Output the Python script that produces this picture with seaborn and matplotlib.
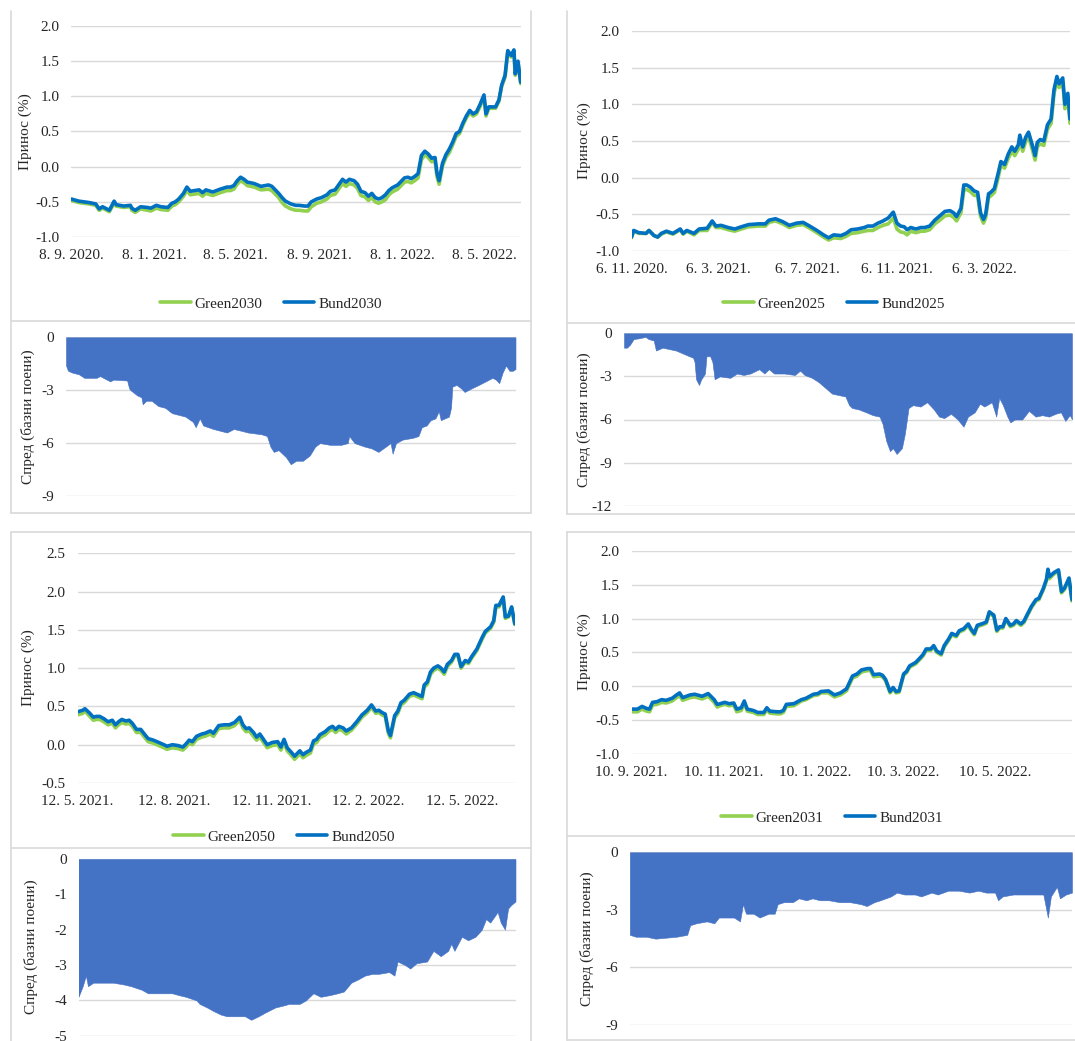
import matplotlib
matplotlib.use("Agg")
import matplotlib.pyplot as plt
from matplotlib.lines import Line2D
from matplotlib.ticker import FuncFormatter, FormatStrFormatter
import numpy as np
import pandas as pd
import seaborn as sns

# ---------------------------------------------------------------- data
# Yields in %, spreads (Green - Bund) in basis points.
# Observation times are given as days since the first observation.

start_2030 = "2020-09-08"
days_2030 = [0, 11, 26, 36, 41, 46, 56, 63, 66, 77, 87, 89, 94, 102, 112, 117, 125, 132, 142, 148,
             153, 158, 165, 170, 175, 188, 193, 198, 208, 219, 229, 234, 239, 244, 249, 254, 259, 269, 279, 290,
             295, 300, 305, 310, 315, 323, 330, 335, 343, 348, 353, 361, 368, 376, 381, 388, 399, 404, 409, 416,
             421, 426, 432, 437, 442, 447, 452, 457, 462, 467, 472, 480, 485, 490, 495, 500, 505, 510, 515, 520,
             525, 530, 535, 538, 541, 546, 551, 556, 561, 566, 571, 576, 581, 586, 591, 596, 601, 607, 610, 614,
             619, 624, 629, 633, 638, 642, 647, 651, 653, 657, 661]
bund_2030 = [-0.46, -0.49, -0.51, -0.53, -0.60, -0.57, -0.62, -0.49, -0.54, -0.56,
             -0.55, -0.59, -0.62, -0.57, -0.58, -0.59, -0.55, -0.57, -0.58, -0.52,
             -0.50, -0.46, -0.38, -0.29, -0.35, -0.33, -0.37, -0.33, -0.36, -0.32,
             -0.29, -0.29, -0.27, -0.20, -0.15, -0.18, -0.22, -0.24, -0.28, -0.26,
             -0.28, -0.33, -0.38, -0.44, -0.49, -0.53, -0.55, -0.55, -0.56, -0.56,
             -0.50, -0.46, -0.44, -0.40, -0.35, -0.33, -0.18, -0.22, -0.18, -0.20,
             -0.25, -0.35, -0.37, -0.42, -0.38, -0.44, -0.46, -0.44, -0.40, -0.34,
             -0.30, -0.26, -0.21, -0.16, -0.15, -0.17, -0.14, -0.10, 0.16, 0.22,
             0.18, 0.12, 0.13, -0.10, -0.20, 0.05, 0.17, 0.25, 0.35, 0.47,
             0.50, 0.62, 0.72, 0.80, 0.75, 0.78, 0.88, 1.02, 0.75, 0.85,
             0.85, 0.85, 0.95, 1.16, 1.30, 1.65, 1.58, 1.66, 1.32, 1.50, 1.20]
green_2030 = [-0.48, -0.51, -0.53, -0.55, -0.62, -0.59, -0.64, -0.52, -0.56, -0.58,
              -0.57, -0.62, -0.65, -0.60, -0.62, -0.63, -0.59, -0.61, -0.62, -0.56,
              -0.54, -0.50, -0.42, -0.34, -0.40, -0.38, -0.42, -0.38, -0.41, -0.37,
              -0.34, -0.34, -0.32, -0.25, -0.20, -0.23, -0.27, -0.29, -0.33, -0.32,
              -0.34, -0.39, -0.44, -0.51, -0.56, -0.60, -0.62, -0.62, -0.63, -0.63,
              -0.57, -0.52, -0.50, -0.46, -0.41, -0.39, -0.24, -0.28, -0.24, -0.26,
              -0.31, -0.41, -0.43, -0.48, -0.44, -0.50, -0.52, -0.50, -0.47, -0.40,
              -0.36, -0.32, -0.27, -0.22, -0.21, -0.23, -0.20, -0.16, 0.10, 0.17,
              0.13, 0.07, 0.08, -0.15, -0.25, 0.01, 0.13, 0.20, 0.31, 0.43,
              0.47, 0.59, 0.69, 0.77, 0.72, 0.75, 0.85, 0.99, 0.72, 0.83,
              0.83, 0.83, 0.93, 1.14, 1.27, 1.63, 1.56, 1.64, 1.30, 1.48, 1.18]
spread_days_2030 = [0, 3, 9, 19, 27, 34, 45, 50, 60, 65, 70, 90, 93, 95, 105, 111, 113, 118, 126, 136,
                    146, 156, 166, 176, 187, 191, 197, 202, 217, 227, 237, 247, 258, 268, 288, 296, 301, 306, 313, 324,
                    331, 339, 349, 359, 367, 374, 389, 405, 415, 417, 425, 440, 450, 460, 471, 478, 481, 486, 496, 511,
                    519, 524, 531, 537, 544, 549, 552, 564, 567, 569, 575, 582, 587, 597, 608, 618, 628, 633, 638, 643,
                    648, 653, 658, 662]
spread_2030 = [-1.6, -1.9, -2.0, -2.1, -2.3, -2.3, -2.3, -2.2, -2.4, -2.5,
               -2.4, -2.45, -2.9, -3.0, -3.3, -3.4, -3.8, -3.6, -3.6, -3.9,
               -4.0, -4.3, -4.4, -4.5, -4.8, -5.1, -4.6, -5.0, -5.2, -5.3,
               -5.4, -5.2, -5.3, -5.4, -5.5, -5.6, -6.2, -6.5, -6.4, -6.8,
               -7.2, -7.0, -7.0, -6.7, -6.2, -6.0, -6.1, -6.1, -6.0, -5.6,
               -6.0, -6.2, -6.3, -6.5, -6.2, -6.0, -6.6, -6.0, -5.8, -5.7,
               -5.6, -5.1, -5.0, -4.7, -4.6, -4.2, -4.7, -4.5, -4.0, -2.8,
               -2.7, -2.9, -3.1, -2.9, -2.7, -2.5, -2.3, -2.4, -2.6, -2.0,
               -1.6, -1.9, -1.9, -1.8]
ticks_2030 = ["2020-09-08", "2021-01-08", "2021-05-08", "2021-09-08", "2022-01-08", "2022-05-08"]

start_2025 = "2020-11-06"
days_2025 = [0, 3, 10, 20, 24, 31, 36, 41, 48, 57, 67, 71, 76, 86, 93, 104, 111, 116, 123, 133,
             142, 151, 161, 175, 184, 189, 198, 208, 217, 227, 236, 245, 255, 264, 271, 278, 288, 295, 302, 311,
             320, 325, 332, 339, 346, 353, 360, 365, 370, 375, 379, 384, 391, 398, 403, 410, 417, 424, 431, 438,
             443, 447, 453, 457, 461, 466, 471, 476, 480, 484, 487, 491, 494, 499, 504, 508, 513, 518, 523, 527,
             532, 534, 538, 542, 546, 551, 555, 558, 562, 567, 572, 577, 581, 585, 588, 593, 596, 600, 603]
bund_2025 = [-0.81, -0.72, -0.75, -0.76, -0.72, -0.79, -0.81, -0.76, -0.73, -0.76,
             -0.70, -0.76, -0.72, -0.76, -0.70, -0.69, -0.59, -0.66, -0.65, -0.68,
             -0.70, -0.67, -0.64, -0.63, -0.63, -0.58, -0.56, -0.60, -0.65, -0.62,
             -0.61, -0.66, -0.72, -0.78, -0.82, -0.78, -0.79, -0.76, -0.71, -0.70,
             -0.68, -0.66, -0.66, -0.62, -0.59, -0.55, -0.47, -0.62, -0.66, -0.67,
             -0.71, -0.68, -0.70, -0.68, -0.68, -0.66, -0.58, -0.52, -0.46, -0.45,
             -0.48, -0.53, -0.42, -0.10, -0.10, -0.13, -0.18, -0.20, -0.48, -0.57,
             -0.50, -0.22, -0.20, -0.15, 0.05, 0.22, 0.18, 0.32, 0.42, 0.36,
             0.45, 0.58, 0.42, 0.55, 0.62, 0.45, 0.30, 0.48, 0.52, 0.50,
             0.72, 0.80, 1.20, 1.38, 1.28, 1.36, 1.00, 1.15, 0.80]
green_2025 = [-0.82, -0.73, -0.76, -0.76, -0.72, -0.79, -0.81, -0.77, -0.74, -0.77,
              -0.71, -0.77, -0.73, -0.78, -0.72, -0.72, -0.61, -0.68, -0.68, -0.71,
              -0.73, -0.70, -0.67, -0.66, -0.66, -0.61, -0.59, -0.63, -0.68, -0.65,
              -0.64, -0.69, -0.75, -0.81, -0.85, -0.82, -0.83, -0.80, -0.76, -0.75,
              -0.73, -0.72, -0.72, -0.68, -0.65, -0.63, -0.55, -0.70, -0.74, -0.75,
              -0.78, -0.73, -0.75, -0.73, -0.73, -0.71, -0.63, -0.58, -0.52, -0.51,
              -0.54, -0.59, -0.48, -0.17, -0.16, -0.19, -0.24, -0.25, -0.53, -0.62,
              -0.55, -0.27, -0.25, -0.20, -0.01, 0.17, 0.13, 0.26, 0.36, 0.30,
              0.39, 0.52, 0.36, 0.49, 0.56, 0.39, 0.24, 0.42, 0.46, 0.44,
              0.66, 0.74, 1.14, 1.33, 1.23, 1.30, 0.94, 1.09, 0.74]
spread_days_2025 = [0, 4, 8, 13, 20, 29, 33, 40, 43, 52, 61, 70, 79, 88, 93, 95, 97, 101, 104, 109,
                    111, 116, 119, 122, 129, 143, 152, 161, 170, 182, 189, 195, 202, 216, 230, 237, 243, 253, 262, 271,
                    280, 289, 298, 303, 307, 316, 326, 335, 344, 348, 353, 358, 362, 367, 374, 378, 383, 389, 399, 408,
                    417, 424, 431, 440, 449, 457, 463, 472, 479, 485, 495, 501, 505, 510, 516, 520, 526, 536, 545, 554,
                    563, 572, 581, 588, 594, 600, 603]
spread_2025 = [-1.0, -1.0, -0.8, -0.4, -0.35, -0.25, -0.4, -0.5, -1.2, -1.0,
               -1.1, -1.2, -1.4, -1.6, -1.7, -2.0, -3.2, -3.6, -3.2, -2.8,
               -1.6, -1.6, -2.0, -3.2, -3.0, -3.1, -2.8, -2.9, -2.8, -2.5,
               -2.8, -2.5, -2.8, -2.8, -2.9, -2.6, -2.9, -3.1, -3.4, -3.8,
               -4.2, -4.3, -4.4, -5.0, -5.2, -5.3, -5.5, -5.7, -5.8, -6.3,
               -7.5, -8.2, -8.0, -8.4, -8.0, -7.0, -5.2, -5.0, -5.1, -4.8,
               -5.3, -5.8, -5.9, -5.6, -6.0, -6.5, -5.8, -5.5, -4.9, -5.1,
               -4.8, -5.8, -4.5, -5.0, -5.8, -6.2, -6.0, -6.0, -5.4, -5.8,
               -5.7, -5.8, -5.6, -5.5, -6.1, -5.7, -6.0]
ticks_2025 = ["2020-11-06", "2021-03-06", "2021-07-06", "2021-11-06", "2022-03-06"]

start_2050 = "2021-05-12"
days_2050 = [0, 5, 7, 11, 15, 18, 21, 25, 29, 33, 36, 39, 42, 46, 49, 52, 56, 60, 64, 67,
             72, 77, 82, 85, 90, 95, 100, 103, 106, 109, 113, 118, 121, 126, 129, 134, 139, 144, 149, 154,
             157, 160, 163, 167, 170, 173, 176, 180, 185, 190, 193, 196, 199, 203, 206, 211, 214, 217, 221, 224,
             227, 230, 235, 239, 242, 245, 248, 252, 255, 260, 265, 270, 275, 279, 283, 286, 289, 292, 295, 297,
             301, 304, 307, 310, 315, 319, 322, 327, 329, 332, 335, 338, 342, 345, 348, 351, 355, 358, 361, 364,
             368, 371, 374, 379, 384, 387, 392, 395, 397, 400, 404, 406, 409, 412, 415]
bund_2050 = [0.43, 0.45, 0.47, 0.42, 0.36, 0.37, 0.37, 0.34, 0.30, 0.32,
             0.26, 0.30, 0.33, 0.31, 0.32, 0.28, 0.20, 0.20, 0.13, 0.08,
             0.06, 0.03, 0.00, -0.02, 0.00, -0.01, -0.03, 0.01, 0.06, 0.04,
             0.11, 0.14, 0.15, 0.18, 0.15, 0.25, 0.26, 0.26, 0.29, 0.36,
             0.26, 0.21, 0.22, 0.16, 0.10, 0.14, 0.08, 0.00, 0.03, 0.04,
             -0.03, 0.07, -0.04, -0.10, -0.15, -0.08, -0.13, -0.10, -0.07, 0.05,
             0.07, 0.13, 0.17, 0.22, 0.24, 0.20, 0.24, 0.22, 0.18, 0.22,
             0.30, 0.39, 0.45, 0.52, 0.44, 0.45, 0.42, 0.40, 0.18, 0.12,
             0.38, 0.44, 0.55, 0.58, 0.66, 0.68, 0.66, 0.63, 0.78, 0.82,
             0.95, 1.00, 1.03, 1.00, 0.95, 1.05, 1.10, 1.18, 1.18, 1.02,
             1.10, 1.08, 1.15, 1.25, 1.40, 1.48, 1.54, 1.62, 1.82, 1.82,
             1.93, 1.67, 1.68, 1.80, 1.58]
green_2050 = [0.39, 0.41, 0.44, 0.38, 0.32, 0.33, 0.33, 0.30, 0.26, 0.28,
              0.22, 0.26, 0.29, 0.27, 0.28, 0.24, 0.16, 0.16, 0.09, 0.04,
              0.02, -0.01, -0.04, -0.06, -0.04, -0.05, -0.07, -0.03, 0.02, 0.00,
              0.07, 0.10, 0.11, 0.14, 0.11, 0.21, 0.22, 0.22, 0.25, 0.32,
              0.22, 0.17, 0.18, 0.11, 0.06, 0.10, 0.04, -0.04, -0.01, 0.00,
              -0.07, 0.03, -0.08, -0.14, -0.19, -0.12, -0.17, -0.14, -0.11, 0.01,
              0.03, 0.09, 0.13, 0.18, 0.20, 0.16, 0.20, 0.18, 0.14, 0.19,
              0.27, 0.36, 0.42, 0.49, 0.41, 0.42, 0.39, 0.37, 0.15, 0.09,
              0.35, 0.41, 0.52, 0.55, 0.63, 0.65, 0.63, 0.60, 0.75, 0.79,
              0.92, 0.97, 1.00, 0.97, 0.92, 1.02, 1.08, 1.16, 1.16, 1.00,
              1.08, 1.06, 1.13, 1.23, 1.38, 1.46, 1.52, 1.60, 1.80, 1.80,
              1.91, 1.65, 1.67, 1.79, 1.57]
spread_days_2050 = [0, 4, 7, 9, 14, 24, 33, 43, 50, 60, 66, 79, 89, 95, 102, 112, 115, 122, 128, 135,
                    141, 151, 158, 164, 171, 177, 187, 194, 200, 210, 216, 223, 230, 239, 246, 252, 259, 266, 272, 279,
                    285, 295, 300, 303, 310, 315, 321, 331, 337, 344, 351, 354, 357, 364, 370, 377, 383, 387, 391, 398,
                    401, 405, 408, 411, 415]
spread_2050 = [-3.9, -3.6, -3.3, -3.6, -3.5, -3.5, -3.5, -3.55, -3.6, -3.7,
               -3.8, -3.8, -3.8, -3.85, -3.9, -4.0, -4.1, -4.2, -4.3, -4.4,
               -4.45, -4.45, -4.45, -4.55, -4.45, -4.35, -4.2, -4.15, -4.1, -4.1,
               -4.0, -3.8, -3.9, -3.85, -3.8, -3.75, -3.5, -3.4, -3.3, -3.25,
               -3.25, -3.2, -3.3, -2.9, -3.0, -3.1, -2.95, -2.9, -2.6, -2.75,
               -2.6, -2.4, -2.6, -2.2, -2.3, -2.2, -2.0, -1.7, -1.8, -1.5,
               -1.8, -2.0, -1.4, -1.3, -1.2]
ticks_2050 = ["2021-05-12", "2021-08-12", "2021-11-12", "2022-02-12", "2022-05-12"]

start_2031 = "2021-09-10"
days_2031 = [0, 4, 7, 10, 12, 14, 17, 20, 23, 27, 30, 32, 34, 39, 42, 47, 51, 55, 57, 59,
             62, 65, 68, 70, 73, 75, 77, 81, 84, 88, 90, 92, 97, 99, 101, 103, 108, 113, 116, 121,
             124, 126, 131, 135, 139, 143, 147, 150, 153, 157, 159, 161, 165, 167, 169, 172, 174, 176, 178, 181,
             183, 185, 189, 192, 194, 196, 199, 201, 203, 206, 208, 211, 213, 216, 218, 221, 224, 226, 228, 230,
             234, 236, 238, 241, 243, 245, 247, 249, 252, 254, 256, 259, 261, 263, 266, 269, 271, 274, 276, 277,
             278, 281, 284, 286, 288, 291, 293]
bund_2031 = [-0.34, -0.34, -0.30, -0.33, -0.34, -0.24, -0.23, -0.20, -0.21, -0.18,
             -0.13, -0.10, -0.17, -0.13, -0.12, -0.15, -0.11, -0.20, -0.27, -0.26,
             -0.24, -0.26, -0.25, -0.34, -0.32, -0.22, -0.34, -0.36, -0.39, -0.39,
             -0.32, -0.37, -0.38, -0.38, -0.36, -0.27, -0.26, -0.20, -0.18, -0.12,
             -0.11, -0.08, -0.07, -0.13, -0.10, -0.04, 0.15, 0.18, 0.24, 0.26,
             0.26, 0.17, 0.18, 0.16, 0.10, -0.08, -0.02, -0.08, -0.07, 0.18,
             0.22, 0.30, 0.35, 0.42, 0.47, 0.55, 0.55, 0.60, 0.52, 0.48,
             0.60, 0.70, 0.78, 0.75, 0.82, 0.85, 0.92, 0.84, 0.78, 0.90,
             0.93, 0.95, 1.10, 1.05, 0.83, 0.88, 0.88, 1.00, 0.90, 0.92,
             0.97, 0.92, 0.96, 1.05, 1.18, 1.28, 1.30, 1.45, 1.58, 1.73,
             1.62, 1.68, 1.72, 1.40, 1.45, 1.60, 1.28]
green_2031 = [-0.38, -0.38, -0.34, -0.37, -0.38, -0.28, -0.27, -0.24, -0.25, -0.22,
              -0.17, -0.14, -0.21, -0.17, -0.16, -0.19, -0.15, -0.24, -0.31, -0.29,
              -0.27, -0.29, -0.28, -0.38, -0.36, -0.25, -0.37, -0.39, -0.42, -0.42,
              -0.35, -0.40, -0.41, -0.41, -0.39, -0.30, -0.29, -0.22, -0.20, -0.14,
              -0.13, -0.10, -0.10, -0.16, -0.13, -0.07, 0.12, 0.15, 0.21, 0.23,
              0.23, 0.14, 0.15, 0.14, 0.08, -0.10, -0.04, -0.10, -0.09, 0.16,
              0.20, 0.28, 0.33, 0.40, 0.45, 0.53, 0.53, 0.58, 0.50, 0.46,
              0.58, 0.68, 0.76, 0.73, 0.80, 0.83, 0.90, 0.82, 0.76, 0.88,
              0.91, 0.93, 1.08, 1.03, 0.81, 0.86, 0.86, 0.98, 0.88, 0.90,
              0.95, 0.90, 0.94, 1.03, 1.16, 1.26, 1.28, 1.43, 1.56, 1.70,
              1.59, 1.66, 1.70, 1.38, 1.43, 1.58, 1.26]
spread_days_2031 = [0, 4, 11, 17, 24, 31, 38, 40, 44, 51, 56, 59, 64, 69, 73, 75, 77, 82, 86, 92,
                    96, 98, 102, 108, 112, 117, 121, 126, 132, 139, 146, 153, 157, 162, 166, 173, 177, 182, 189, 193,
                    200, 204, 211, 218, 225, 231, 236, 242, 244, 247, 254, 261, 268, 274, 277, 279, 283, 285, 289, 293]
spread_2031 = [-4.3, -4.4, -4.4, -4.5, -4.45, -4.4, -4.3, -3.8, -3.7, -3.6,
               -3.7, -3.4, -3.4, -3.4, -3.6, -2.7, -3.2, -3.2, -3.4, -3.2,
               -3.2, -2.7, -2.6, -2.6, -2.4, -2.5, -2.4, -2.5, -2.5, -2.6,
               -2.6, -2.7, -2.8, -2.6, -2.5, -2.3, -2.1, -2.2, -2.2, -2.3,
               -2.1, -2.2, -2.0, -2.0, -2.1, -2.0, -2.1, -2.1, -2.5, -2.3,
               -2.2, -2.2, -2.2, -2.2, -3.4, -2.3, -1.8, -2.4, -2.2, -2.1]
ticks_2031 = ["2021-09-10", "2021-11-10", "2022-01-10", "2022-03-10", "2022-05-10"]

# ---------------------------------------------------------------- style
W, H, DPI = 1075, 1041, 100
FS = 11
GREEN, BLUE, AREA, GRID = "#92D050", "#0070C0", "#4472C4", "#D9D9D9"
TXT = "#262626"
LW = 2.6

sns.set_style("white")
plt.rcParams["font.family"] = ["Liberation Serif", "DejaVu Serif"]
plt.rcParams["axes.unicode_minus"] = False
plt.rcParams["font.size"] = FS

fig = plt.figure(figsize=(W / DPI, H / DPI), dpi=DPI)
fig.patch.set_facecolor("white")


def rect(l, t, r, b):
    """Pixel box (left, top, right, bottom) -> figure fraction rect."""
    return [l / W, 1 - b / H, (r - l) / W, (b - t) / H]


def date_label(x, pos=None):
    d = matplotlib.dates.num2date(x)
    return f"{d.day}. {d.month}. {d.year}."


def frame_line(x0, y0, x1, y1):
    fig.add_artist(Line2D([x0 / W, x1 / W], [1 - y0 / H, 1 - y1 / H],
                          color=GRID, lw=1.2, transform=fig.transFigure))


def clean(ax):
    for s in ax.spines.values():
        s.set_visible(False)
    ax.yaxis.grid(True, color=GRID, lw=1.0)
    ax.xaxis.grid(False)
    ax.set_axisbelow(True)
    ax.tick_params(axis="both", length=0, labelsize=FS, colors=TXT)
    ax.tick_params(axis="y", pad=8.5)
    ax.tick_params(axis="x", pad=8.5)
    ax.set_xlabel("")
    ax.set_ylabel("")


def yield_panel(pos, start, days, bund, green, name_green, name_bund,
                ylim, yticks, tick_dates, ylab_xy, leg_xy):
    ax = fig.add_axes(rect(*pos))
    t0 = pd.Timestamp(start)
    dates = t0 + pd.to_timedelta(days, unit="D")
    df = pd.DataFrame({"date": dates, name_green: green, name_bund: bund})
    sns.lineplot(data=df, x="date", y=name_green, ax=ax, color=GREEN, lw=LW)
    sns.lineplot(data=df, x="date", y=name_bund, ax=ax, color=BLUE, lw=LW)
    ax.set_xlim(dates[0], dates[-1])
    ax.set_ylim(*ylim)
    ax.set_yticks(yticks)
    ax.yaxis.set_major_formatter(FormatStrFormatter("%.1f"))
    ax.set_xticks(pd.to_datetime(tick_dates))
    ax.xaxis.set_major_formatter(FuncFormatter(date_label))
    clean(ax)
    fig.text(ylab_xy[0] / W, 1 - ylab_xy[1] / H, "Принос (%)", rotation=90,
             ha="center", va="center", fontsize=FS, color=TXT)
    handles = [Line2D([], [], color=GREEN, lw=LW), Line2D([], [], color=BLUE, lw=LW)]
    fig.legend(handles, [name_green, name_bund], loc="center",
               bbox_to_anchor=(leg_xy[0] / W, 1 - leg_xy[1] / H), ncol=2,
               frameon=False, fontsize=FS, handlelength=2.0, handletextpad=0.25,
               columnspacing=1.4, labelcolor=TXT)
    return ax


def spread_panel(pos, start, days, spread, ylim, yticks, ylab_xy):
    ax = fig.add_axes(rect(*pos))
    t0 = pd.Timestamp(start)
    dates = t0 + pd.to_timedelta(days, unit="D")
    ax.fill_between(dates, spread, 0, color=AREA, lw=0.4, edgecolor=AREA)
    ax.set_xlim(dates[0], dates[-1])
    ax.set_ylim(*ylim)
    ax.set_yticks(yticks)
    ax.yaxis.set_major_formatter(FormatStrFormatter("%d"))
    ax.set_xticks([])
    clean(ax)
    fig.text(ylab_xy[0] / W, 1 - ylab_xy[1] / H, "Спред (базни поени)", rotation=90,
             ha="center", va="center", fontsize=FS, color=TXT)
    return ax


# ---------------------------------------------------------------- panels
yield_panel((71.3, 26, 520.7, 237), start_2030, days_2030, bund_2030, green_2030,
            "Green2030", "Bund2030", (-1.0, 2.0), np.arange(-1.0, 2.01, 0.5),
            ticks_2030, (25, 131.5), (271, 304))
spread_panel((66, 337.3, 515.5, 496), start_2030, spread_days_2030, spread_2030,
             (-9, 0), [-9, -6, -3, 0], (27.5, 416.5))

yield_panel((631.5, 31, 1070, 251), start_2025, days_2025, bund_2025, green_2025,
            "Green2025", "Bund2025", (-1.0, 2.0), np.arange(-1.0, 2.01, 0.5),
            ticks_2025, (584, 141), (834, 304))
spread_panel((624, 333.3, 1072, 505.7), start_2025, spread_days_2025, spread_2025,
             (-12, 0), [-12, -9, -6, -3, 0], (584, 419.5))

yield_panel((77.5, 553.3, 514.8, 783), start_2050, days_2050, bund_2050, green_2050,
            "Green2050", "Bund2050", (-0.5, 2.5), np.arange(-0.5, 2.51, 0.5),
            ticks_2050, (28.4, 668), (284, 836.7))
spread_panel((78.5, 859, 515.5, 1035.7), start_2050, spread_days_2050, spread_2050,
             (-5, 0), [-5, -4, -3, -2, -1, 0], (31, 947))

yield_panel((631.5, 551, 1072, 753.7), start_2031, days_2031, bund_2031, green_2031,
            "Green2031", "Bund2031", (-1.0, 2.0), np.arange(-1.0, 2.01, 0.5),
            ticks_2031, (584, 652), (832, 817.7))
spread_panel((629.8, 852.3, 1072, 1025), start_2031, spread_days_2031, spread_2031,
             (-9, 0), [-9, -6, -3, 0], (586.5, 938.5))

# ---------------------------------------------------------------- chart frames
# left column
frame_line(11.4, 11, 11.4, 513)
frame_line(531, 11, 531, 513)
frame_line(11.4, 321, 531, 321)
frame_line(11.4, 513, 531, 513)
frame_line(11.4, 532, 11.4, 1041)
frame_line(531, 532, 531, 1041)
frame_line(11.4, 532, 531, 532)
frame_line(11.4, 848, 531, 848)
# right column
frame_line(567, 11, 567, 514)
frame_line(567, 323, 1075, 323)
frame_line(567, 514, 1075, 514)
frame_line(567, 532, 567, 1040)
frame_line(567, 532, 1075, 532)
frame_line(567, 836, 1075, 836)
frame_line(567, 1040, 1075, 1040)

fig.savefig("out.png", dpi=DPI, facecolor="white")
